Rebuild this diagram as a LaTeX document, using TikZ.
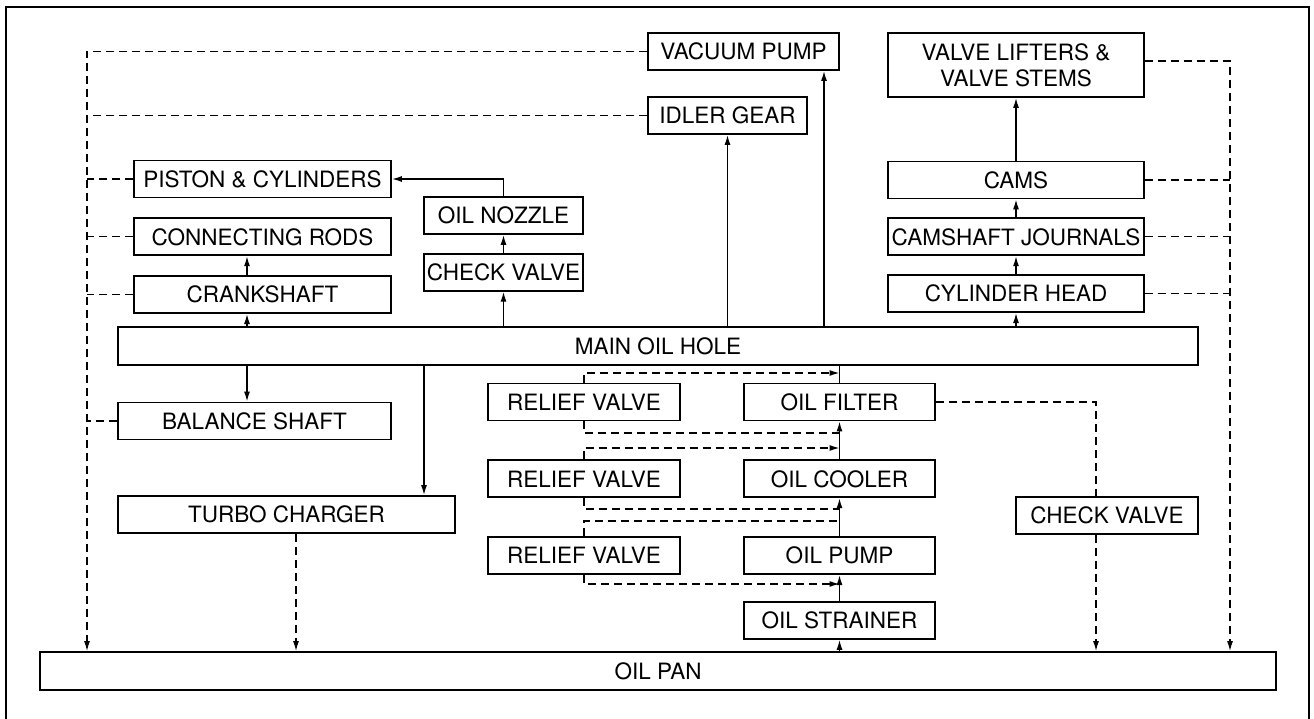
\documentclass[tikz,border=0pt]{standalone}
\usepackage{fontspec}
\setmainfont{TeX Gyre Heros}
\usetikzlibrary{arrows.meta, positioning}

\begin{document}
\begin{tikzpicture}[
  x=1pt, y=-1pt,
  node distance=19pt and 0.8cm,
  box/.style={draw, line width=1.8pt, minimum height=37pt, inner sep=1.5pt, align=center, font=\fontsize{22.5}{26}\selectfont},
  pipe/.style={line width=1.4pt},
  arrow/.style={pipe, -{Latex[length=10pt,width=6pt]}},
  ret/.style={line width=1.3pt, dash pattern=on 8pt off 5pt},
  retarrow/.style={ret, -{Latex[length=10pt,width=6pt]}}
]
\path[use as bounding box, fill=white] (0,0) rectangle (1314,719);
\draw[line width=1.8pt] (6,719) -- (6,7) -- (1309,7) -- (1309,719);

% Nodes
\node[box, minimum width=191pt] (vac) at (743.5,51.5) {VACUUM PUMP};
\node[box, minimum width=159pt] (idl) at (727.5,115.5) {IDLER GEAR};
\node[box, minimum width=256pt, minimum height=64pt] (lift) at (1016,65) {VALVE LIFTERS \&\\ VALVE STEMS};
\node[box, minimum width=257pt] (pist) at (262.5,179) {PISTON \& CYLINDERS};
\node[box, minimum width=257pt, below=of pist] (rods) {CONNECTING RODS};
\node[box, minimum width=257pt, below=of rods] (crank) {CRANKSHAFT};
\node[box, minimum width=159pt] (noz) at (503.5,215.5) {OIL NOZZLE};
\node[box, minimum width=159pt, below=18pt of noz] (chk) {CHECK VALVE};
\node[box, minimum width=256pt] (cams) at (1016,180) {CAMS};
\node[box, minimum width=256pt, below=18pt of cams] (jrn) {CAMSHAFT JOURNALS};
\node[box, minimum width=256pt, below=18pt of jrn] (head) {CYLINDER HEAD};
\node[box, minimum width=1080pt, minimum height=38pt] (hole) at (658,346) {MAIN OIL HOLE};
\node[box, minimum width=273pt] (bal) at (254.5,421) {BALANCE SHAFT};
\node[box, minimum width=337pt] (turbo) at (286.5,514.5) {TURBO CHARGER};
\node[box, minimum width=192pt] (rv1) at (584,402) {RELIEF VALVE};
\node[box, minimum width=192pt, below=38pt of rv1] (rv2) {RELIEF VALVE};
\node[box, minimum width=192pt, below=38pt of rv2] (rv3) {RELIEF VALVE};
\node[box, minimum width=191pt] (filt) at (839.5,402) {OIL FILTER};
\node[box, minimum width=191pt, below=38pt of filt] (cool) {OIL COOLER};
\node[box, minimum width=191pt, below=38pt of cool] (pump) {OIL PUMP};
\node[box, minimum width=191pt, below=26pt of pump] (strain) {OIL STRAINER};
\node[box, minimum width=182pt] (chk2) at (1107,515.5) {CHECK VALVE};
\node[box, minimum width=1236pt, minimum height=38pt] (pan) at (658,671) {OIL PAN};

% Columns and joints
\coordinate (lbus) at (87,0);
\coordinate (rbus) at (1230,0);
\coordinate (crx) at (247,0);
\coordinate (vacx) at (824,0);
\coordinate (turx) at (424,0);
\coordinate (tdx) at (296,0);
\coordinate (cvx) at (1096,0);
\coordinate (j1) at (839.5,373);
\coordinate (j2) at (839.5,433);
\coordinate (j3) at (839.5,448);
\coordinate (j4) at (839.5,509);
\coordinate (j5) at (839.5,521);
\coordinate (j6) at (839.5,584);

% Pointers
\draw[arrow] (hole.north -| crx) -- (crank.south -| crx);
\draw[arrow] (crank.north -| crx) -- (rods.south -| crx);
\draw[arrow] (hole.south -| crx) -- (bal.north -| crx);
\draw[arrow] (hole.south -| turx) -- (turbo.north -| turx);
\draw[arrow] (hole.north -| chk) -- (chk.south);
\draw[arrow] (chk) -- (noz);
\draw[arrow] (noz.north) |- (pist.east);
\draw[arrow] (hole.north -| idl) -- (idl.south);
\draw[arrow] (hole.north -| vacx) -- (vac.south -| vacx);
\draw[arrow] (hole.north -| head) -- (head.south);
\draw[arrow] (head) -- (jrn);
\draw[arrow] (jrn) -- (cams);
\draw[arrow] (cams) -- (lift);
\draw[arrow] (pan.north -| strain) -- (strain.south);
\draw[arrow] (strain) -- (pump);
\draw[arrow] (pump) -- (cool);
\draw[arrow] (cool) -- (filt);
\draw[pipe] (filt) -- (filt |- hole.south);

% Returns
\draw[retarrow] (vac.west) -| (lbus |- pan.north);
\draw[ret] (idl.west) -- (idl.west -| lbus);
\draw[ret] (pist.west) -- (pist.west -| lbus);
\draw[ret] (rods.west) -- (rods.west -| lbus);
\draw[ret] (crank.west) -- (crank.west -| lbus);
\draw[ret] (bal.west) -- (bal.west -| lbus);
\draw[retarrow] ([yshift=4pt]lift.east) -| (rbus |- pan.north);
\draw[ret] (cams.east) -- (cams.east -| rbus);
\draw[ret] (jrn.east) -- (jrn.east -| rbus);
\draw[ret] (head.east) -- (head.east -| rbus);
\draw[retarrow] (turbo.south -| tdx) -- (pan.north -| tdx);
\draw[ret] (filt.east) -| (chk2.north -| cvx);
\draw[retarrow] (chk2.south -| cvx) -- (pan.north -| cvx);
\draw[retarrow] (rv1.north) |- (j1);
\draw[ret] (rv1.south) |- (j2);
\draw[retarrow] (rv2.north) |- (j3);
\draw[ret] (rv2.south) |- (j4);
\draw[ret] (rv3.north) |- (j5);
\draw[retarrow] (rv3.south) |- (j6);
\end{tikzpicture}
\end{document}
